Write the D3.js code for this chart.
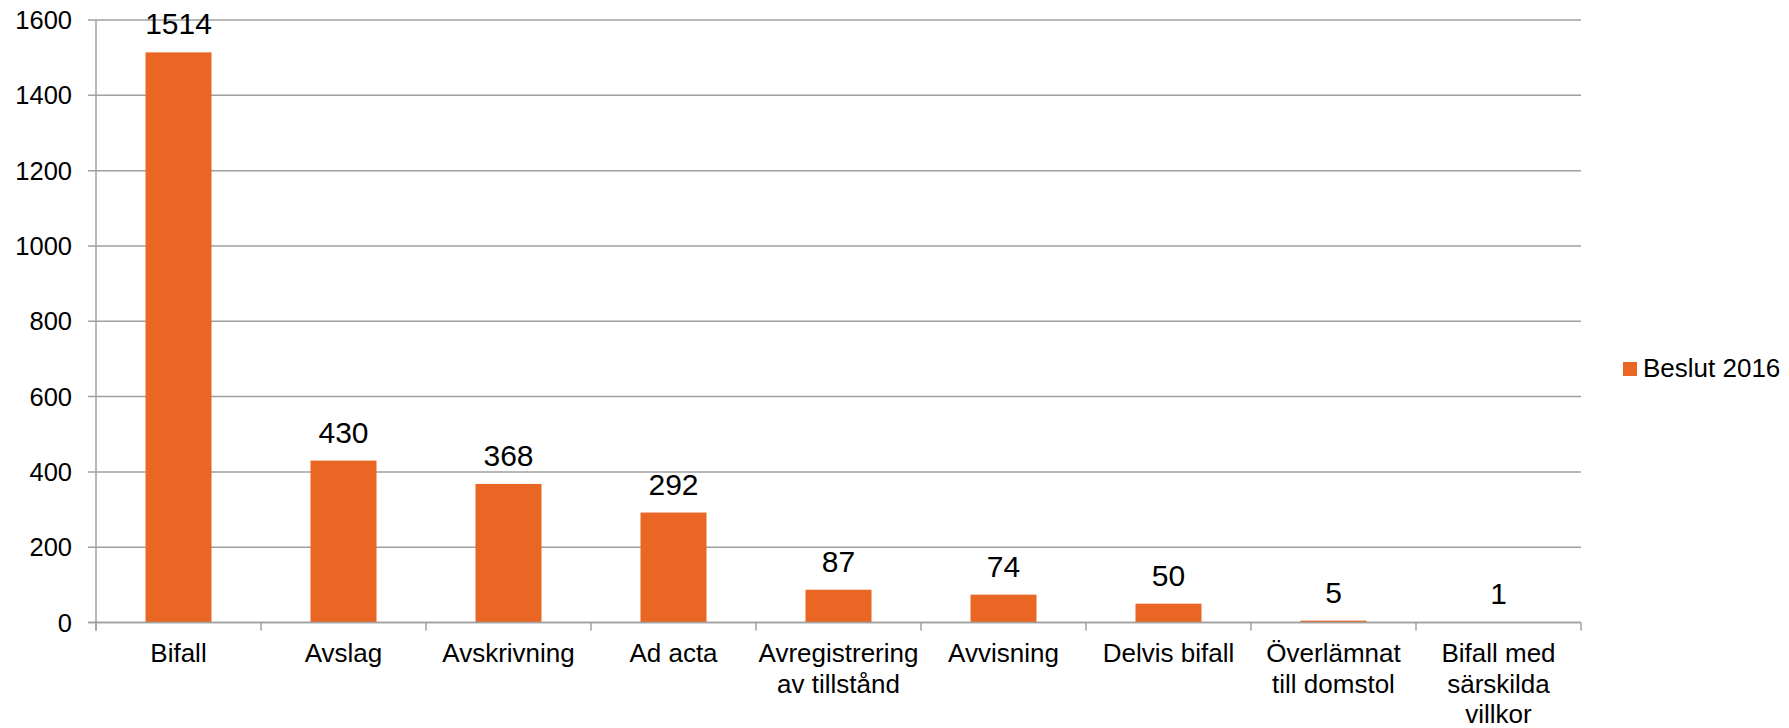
<!DOCTYPE html>
<html><head><meta charset="utf-8">
<script src="https://cdn.jsdelivr.net/npm/d3@7"></script>
<style>body{margin:0;background:#fff;} text{font-family:"Liberation Sans",Arial,sans-serif;fill:#000;}</style>
</head><body>
<svg id="chart" width="1789" height="728"></svg>
<script>
const categories = [["Bifall"],["Avslag"],["Avskrivning"],["Ad acta"],["Avregistrering","av tillstånd"],["Avvisning"],["Delvis bifall"],["Överlämnat","till domstol"],["Bifall med","särskilda","villkor"]];
const values = [1514,430,368,292,87,74,50,5,1];
const yTicks = [0,200,400,600,800,1000,1200,1400,1600];
const seriesName = "Beslut 2016";

(function(){
const svg = d3.select("#chart");
const mLeft = 96, mRight = 1581, mTop = 20, mBottom = 622.5;
const color = "#E96625", grid = "#A0A0A0";
const keys = categories.map((c,i)=>i);
const x = d3.scaleBand().domain(keys).range([mLeft,mRight]).paddingInner(0.6).paddingOuter(0.3);
const xOuter = d3.scaleBand().domain(keys).range([mLeft,mRight]);
const y = d3.scaleLinear().domain([0,1600]).range([mBottom,mTop]);

svg.append("g").selectAll("line").data(yTicks).join("line")
  .attr("x1",mLeft-8).attr("x2",mRight).attr("y1",d=>y(d)).attr("y2",d=>y(d))
  .attr("stroke",grid).attr("stroke-width",1.5);
svg.append("g").selectAll("text").data(yTicks).join("text")
  .attr("x",72).attr("y",d=>y(d)).attr("dy","0.36em").attr("text-anchor","end")
  .attr("font-size",25.5).text(d=>d);
svg.append("line").attr("x1",mLeft).attr("x2",mLeft).attr("y1",mTop).attr("y2",mBottom+8)
  .attr("stroke",grid).attr("stroke-width",1.5);
const tickX = keys.map(k=>xOuter(k)+xOuter.bandwidth()).concat([mLeft]);
svg.append("g").selectAll("line").data(tickX).join("line")
  .attr("x1",d=>d).attr("x2",d=>d).attr("y1",mBottom).attr("y2",mBottom+8)
  .attr("stroke",grid).attr("stroke-width",1.5);
svg.append("g").selectAll("rect").data(values).join("rect")
  .attr("x",(d,i)=>x(i)).attr("width",x.bandwidth())
  .attr("y",d=>y(d)).attr("height",d=>mBottom-y(d)).attr("fill",color);
svg.append("g").selectAll("text").data(values).join("text")
  .attr("x",(d,i)=>x(i)+x.bandwidth()/2).attr("y",d=>y(d)-18)
  .attr("text-anchor","middle").attr("font-size",30).text(d=>d);
const cl = svg.append("g").selectAll("text").data(categories).join("text")
  .attr("x",(d,i)=>xOuter(i)+xOuter.bandwidth()/2).attr("y",662)
  .attr("text-anchor","middle").attr("font-size",26);
cl.selectAll("tspan").data(d=>d).join("tspan")
  .attr("x",function(){return this.parentNode.getAttribute("x");})
  .attr("dy",(d,i)=>i===0?0:30.5).text(d=>d);
svg.append("rect").attr("x",1623).attr("y",362).attr("width",14).attr("height",14).attr("fill",color);
svg.append("text").attr("x",1643).attr("y",377).attr("font-size",26).text(seriesName);
svg.append("line").attr("x1",mLeft-8).attr("x2",mRight).attr("y1",mBottom).attr("y2",mBottom)
  .attr("stroke",grid).attr("stroke-width",1.5);
})();
</script>
</body></html>
